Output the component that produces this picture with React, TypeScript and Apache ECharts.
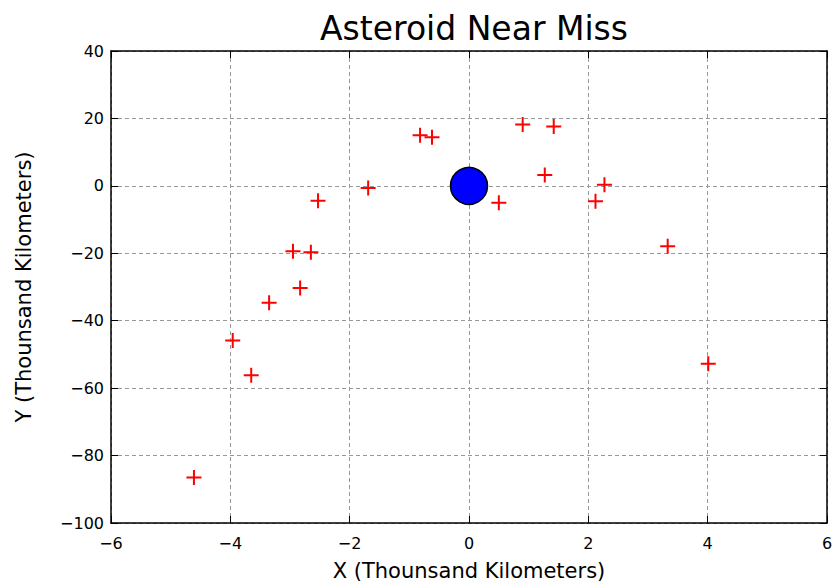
import React, { useEffect, useRef } from "react";
import * as echarts from "echarts";

const asteroidX = [-0.82, -0.62, -1.69, -2.53, -2.95, -2.65, -2.83, -3.35, -3.96, -3.65, -4.61, 0.9, 1.42, 1.27, 2.27, 2.12, 0.5, 3.33, 4.01];
const asteroidY = [15.0, 14.4, -0.6, -4.4, -19.4, -19.7, -30.3, -34.7, -45.9, -56.2, -86.5, 18.2, 17.6, 3.2, 0.3, -4.6, -5.0, -17.9, -52.8];
const earth = [[0, 0]];

const title = "Asteroid Near Miss";
const xName = "X (Thounsand Kilometers)";
const yName = "Y (Thounsand Kilometers)";

const FONT = "DejaVu Sans";
const plusPath = "path://M0,6.5 H15 V8.5 H0 Z M6.5,0 H8.5 V15 H6.5 Z";

export default function App() {
  const ref = useRef<HTMLDivElement>(null);
  useEffect(() => {
    if (!ref.current) return;
    const chart = echarts.init(ref.current, undefined, { renderer: "svg" });
    const grid = {
      left: 111,
      right: 9,
      top: 51,
      bottom: 59,
    };
    const splitLine = { show: true, lineStyle: { color: "#999", type: [4, 3] as any, width: 1 } };
    const axisLine = { show: true, onZero: false, lineStyle: { color: "#000", width: 1.5 } };
    const tick = { show: true, inside: true, length: 7, lineStyle: { color: "#000", width: 1 } };
    const label = { fontFamily: FONT, fontSize: 16, color: "#000", formatter: (v: number) => String(v).replace("-", "\u2212") };
    chart.setOption({
      animation: false,
      backgroundColor: "#fff",
      title: {
        text: title,
        left: 469,
        textAlign: "center",
        top: 7,
        textStyle: { fontFamily: FONT, fontSize: 33, fontWeight: "normal", color: "#000" },
      },
      grid,
      xAxis: [
        {
          type: "value",
          min: -6,
          max: 6,
          interval: 2,
          position: "bottom",
          name: xName,
          nameLocation: "middle",
          nameGap: 37,
          nameTextStyle: { fontFamily: FONT, fontSize: 21, color: "#000" },
          axisLine,
          axisTick: tick,
          axisLabel: { ...label, margin: 12 },
          splitLine,
        },
        {
          type: "value",
          min: -6,
          max: 6,
          interval: 2,
          position: "top",
          axisLine,
          axisTick: tick,
          axisLabel: { show: false },
          splitLine: { show: false },
        },
      ],
      yAxis: [
        {
          type: "value",
          min: -100,
          max: 40,
          interval: 20,
          position: "left",
          name: yName,
          nameLocation: "middle",
          nameGap: 77,
          nameTextStyle: { fontFamily: FONT, fontSize: 21, color: "#000" },
          axisLine,
          axisTick: tick,
          axisLabel: { ...label, margin: 7 },
          splitLine,
        },
        {
          type: "value",
          min: -100,
          max: 40,
          interval: 20,
          position: "right",
          axisLine,
          axisTick: tick,
          axisLabel: { show: false },
          splitLine: { show: false },
        },
      ],
      series: [
        {
          type: "scatter",
          data: asteroidX.map((x, i) => [x, asteroidY[i]]),
          symbol: plusPath,
          symbolSize: 15,
          itemStyle: { color: "#ff0000", opacity: 1 },
          z: 3,
        },
        {
          type: "scatter",
          data: earth,
          symbol: "circle",
          symbolSize: 37,
          itemStyle: { color: "#0000ff", borderColor: "#000", borderWidth: 1.5, opacity: 1 },
          z: 4,
        },
      ],
    });
    return () => chart.dispose();
  }, []);
  return <div ref={ref} style={{ width: 836, height: 586, position: "absolute", left: 0, top: 0 }} />;
}
